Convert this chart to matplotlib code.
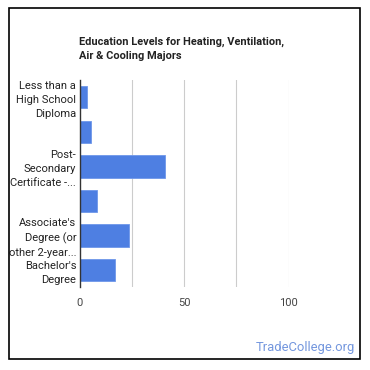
import matplotlib
matplotlib.use("Agg")
import matplotlib.pyplot as plt
from matplotlib.patches import Rectangle

categories = [
    "Less than a High School Diploma",
    "High School Diploma",
    "Post-Secondary Certificate",
    "Some College Courses",
    "Associate's Degree (or other 2-year degree)",
    "Bachelor's Degree",
]
tick_labels = [
    "Less than a\nHigh School\nDiploma",
    "",
    "Post-\nSecondary\nCertificate -...",
    "",
    "Associate's\nDegree (or\nother 2-year...",
    "Bachelor's\nDegree",
]
values = [3.6, 5.6, 41.0, 8.4, 23.7, 17.0]
x_ticks = [0, 50, 100]
grid_ticks = [25, 50, 75, 100]
title = "Education Levels for Heating, Ventilation,\nAir & Cooling Majors"
watermark = "TradeCollege.org"

plt.rcParams['font.family'] = ['Roboto', 'DejaVu Sans']

fig = plt.figure(figsize=(3.7, 3.7), dpi=100)
fig.patch.set_facecolor("white")

ax = fig.add_axes([0.2154, 0.2235, 0.5646, 0.5603])
y = list(range(len(categories)))
ax.barh(y, values, height=0.65, color="#4e7fe2", edgecolor="#6f97ea", linewidth=0.6, zorder=3)
ax.set_ylim(len(categories) - 0.5, -0.5)
ax.set_xlim(0, 100)

for g in grid_ticks:
    ax.axvline(g, color="#cccccc", linewidth=0.8, zorder=1)

ax.set_xticks(x_ticks)
ax.set_xticklabels([str(t) for t in x_ticks], fontsize=8, color="#444444")
ax.set_yticks(y)
ax.set_yticklabels(tick_labels, fontsize=8, color="#222222", linespacing=1.5)
ax.tick_params(axis="both", length=0, pad=2.5)
ax.tick_params(axis="x", pad=8)

for s in ["top", "right", "bottom"]:
    ax.spines[s].set_visible(False)
ax.spines["left"].set_color("#333333")
ax.spines["left"].set_linewidth(1.0)
ax.spines["left"].set_zorder(4)

fig.text(79 / 370, 1 - 36.5 / 370, title, fontsize=7.9, fontweight="bold",
         color="#222222", ha="left", va="top", linespacing=1.5)

fig.text(355 / 370, 1 - 348 / 370, watermark, fontsize=9.4, color="#7497de",
         ha="right", va="center")

fig.patches.append(Rectangle((8.5 / 370, 11 / 370), 351 / 370, 351 / 370,
                             transform=fig.transFigure, fill=False,
                             edgecolor="black", linewidth=1.2))

fig.savefig("out.png", dpi=100, facecolor="white")
